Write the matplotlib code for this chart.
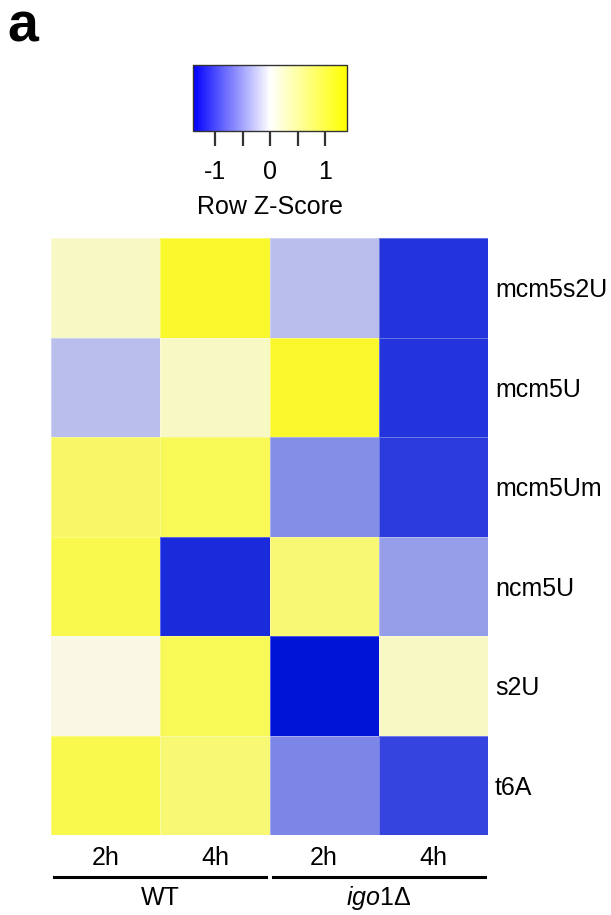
import numpy as np
import matplotlib
matplotlib.use("Agg")
import matplotlib.pyplot as plt
from matplotlib.colors import LinearSegmentedColormap, Normalize
from matplotlib.colorbar import ColorbarBase

plt.rcParams["font.family"] = ["Liberation Sans", "DejaVu Sans"]
plt.rcParams["mathtext.fontset"] = "custom"
plt.rcParams["mathtext.rm"] = "Liberation Sans"
plt.rcParams["mathtext.it"] = "Liberation Sans:italic"

# row z-scores
rows = ["mcm5s2U", "mcm5U", "mcm5Um", "ncm5U", "s2U", "t6A"]
cols = ["2h", "4h", "2h", "4h"]
groups = ["WT", r"$\mathit{igo1}\Delta$"]
z = np.array([
    [0.30, 1.26, -0.35, -1.20],
    [-0.35, 0.30, 1.26, -1.20],
    [0.90, 1.00, -0.65, -1.15],
    [1.05, -1.25, 0.80, -0.55],
    [0.10, 1.00, -1.40, 0.30],
    [1.05, 0.80, -0.70, -1.10],
])
zlim = 1.4

# key uses the pure ramp, cells look slightly duller in the print
key_cmap = LinearSegmentedColormap.from_list("key", ["#0000ff", "#ffffff", "#ffff00"])
cell_cmap = LinearSegmentedColormap.from_list("cell", ["#0014d8", "#f8f8f4", "#f8f818"])
norm = Normalize(-zlim, zlim)

fig = plt.figure(figsize=(6.11, 9.15), dpi=100)

# heatmap
ax = fig.add_axes([51 / 611, 1 - 835 / 915, 437 / 611, 597 / 915])
ax.pcolormesh(z, cmap=cell_cmap, norm=norm, edgecolors=(1, 1, 1, 0.3), linewidth=0.6)
ax.set_xlim(0, 4)
ax.set_ylim(len(rows), 0)
for s in ax.spines.values():
    s.set_visible(False)
ax.yaxis.tick_right()
ax.set_yticks(np.arange(len(rows)) + 0.5)
ax.set_yticklabels(rows, fontsize=18)
ax.set_xticks(np.arange(len(cols)) + 0.5)
ax.set_xticklabels(cols, fontsize=18)
ax.tick_params(length=0, pad=5)
ax.tick_params(axis="x", pad=8)

# group bars under the columns
for i, g in enumerate(groups):
    ax.plot([2 * i + 0.03, 2 * i + 1.97], [6.42, 6.42], color="black", lw=2.2,
            clip_on=False)
    ax.text(2 * i + 1, 6.63, g, ha="center", va="center", fontsize=18)

# colour key
cax = fig.add_axes([193 / 611, 1 - 131 / 915, 154 / 611, 66 / 915])
cb = ColorbarBase(cax, cmap=key_cmap, norm=norm, orientation="horizontal")
cb.set_ticks([-1, -0.5, 0, 0.5, 1])
cb.set_ticklabels(["-1", "", "0", "", "1"])
cb.outline.set_linewidth(1.0)
cb.outline.set_edgecolor("#333333")
cax.tick_params(length=11, width=1.6, color="#333333", labelsize=18, pad=10)
cb.set_label("Row Z-Score", fontsize=18, labelpad=8)

fig.text(7 / 611, 1 - 42 / 915, "a", fontsize=40, fontweight="bold",
         va="baseline")

fig.savefig("out.png", dpi=100)
